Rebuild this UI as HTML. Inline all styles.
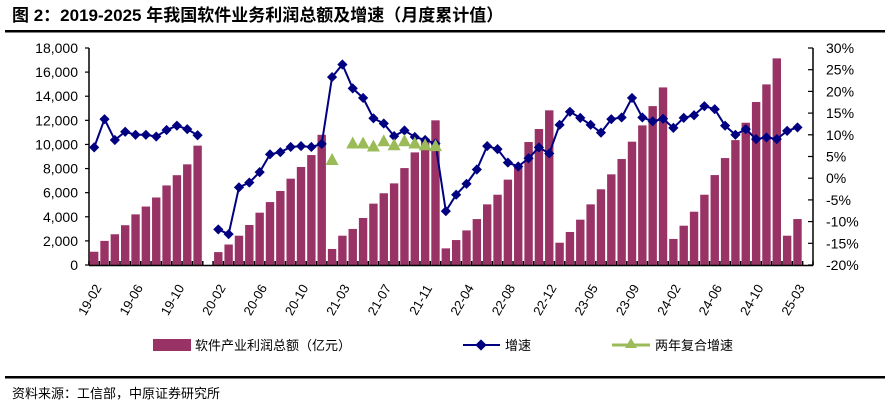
<!DOCTYPE html>
<html><head><meta charset="utf-8">
<style>
body{margin:0;background:#fff;width:889px;height:409px;overflow:hidden;font-family:"Liberation Sans","Noto Sans CJK SC",sans-serif;}
svg{display:block}
</style></head>
<body>
<svg id="c" width="889" height="409" xmlns="http://www.w3.org/2000/svg">
<text x="12" y="21" font-size="17" font-weight="bold" font-family="Liberation Sans, Noto Sans CJK SC, sans-serif" fill="#000">图 2：2019-2025 年我国软件业务利润总额及增速（月度累计值）</text>
<rect x="5" y="30" width="880" height="2.5" fill="#000"/>
<rect x="5" y="376" width="880" height="2.5" fill="#000"/>
<text x="12" y="398" font-size="13" fill="#000" font-family="Liberation Sans, Noto Sans CJK SC, sans-serif">资料来源：工信部，中原证券研究所</text>
<g id="plot"></g>
<g id="legend" font-size="13" font-family="Liberation Sans, Noto Sans CJK SC, sans-serif">
  <rect x="153" y="339" width="38" height="12" fill="#993366"/>
  <text x="195" y="350">软件产业利润总额（亿元）</text>
  <line x1="463" y1="345" x2="500" y2="345" stroke="#000080" stroke-width="2"/>
  <rect x="477" y="341" width="8" height="8" fill="#000080" transform="rotate(45 481 345)"/>
  <text x="505" y="350">增速</text>
  <line x1="612" y1="345" x2="650" y2="345" stroke="#9BBB59" stroke-width="3"/>
  <polygon points="631,338 637,348 625,348" fill="#9BBB59"/>
  <text x="655" y="350">两年复合增速</text>
</g>
</svg>
<script>
const categories = ["19-02","19-03","19-04","19-05","19-06","19-07","19-08","19-09","19-10","19-11","19-12","",
"20-02","20-03","20-04","20-05","20-06","20-07","20-08","20-09","20-10","20-11","20-12",
"21-02","21-03","21-04","21-05","21-06","21-07","21-08","21-09","21-10","21-11","21-12",
"22-02","22-03","22-04","22-05","22-06","22-07","22-08","22-09","22-10","22-11","22-12",
"23-02","23-03","23-04","23-05","23-06","23-07","23-08","23-09","23-10","23-11","23-12",
"24-02","24-03","24-04","24-05","24-06","24-07","24-08","24-09","24-10","24-11","24-12",
"25-02","25-03",""];
const profit = [1100,2000,2550,3300,4200,4850,5600,6600,7450,8350,9900,null,
1070,1700,2430,3320,4340,5220,6140,7160,8130,9120,10800,
1330,2430,2990,3900,5090,5950,6770,8040,9340,10500,12000,
1380,2070,2870,3810,5030,5830,7080,8070,10200,11280,12830,
1850,2740,3760,5030,6280,7520,8790,10230,11580,13180,14730,
2160,3260,4420,5830,7460,8870,10360,11800,13520,14980,17140,
2430,3810,null];
const growth = [7.1,13.6,8.8,10.7,10.0,10.0,9.6,11.1,12.1,11.3,9.9,null,
-11.8,-12.9,-2.1,-1.0,1.4,5.5,6.0,7.2,7.4,7.2,7.9,
23.3,26.2,20.7,18.5,13.8,12.6,9.7,11.0,9.5,8.8,8.0,
-7.6,-3.8,-1.3,2.0,7.4,6.7,3.6,2.7,4.6,7.1,5.7,
12.3,15.3,13.9,12.3,10.5,13.6,14.0,18.5,14.0,13.1,13.7,
11.6,13.9,14.5,16.6,15.9,12.1,10.0,11.3,9.0,9.4,9.0,
10.9,11.7,null];
const cagr = [null,null,null,null,null,null,null,null,null,null,null,null,
null,null,null,null,null,null,null,null,null,null,null,
4.2,null,8.0,8.0,7.3,8.5,7.6,8.5,8.0,7.6,7.4];
const leftTicks = ["0","2,000","4,000","6,000","8,000","10,000","12,000","14,000","16,000","18,000"];
const leftTickValues = [0,2000,4000,6000,8000,10000,12000,14000,16000,18000];
const rightTicks = ["-20%","-15%","-10%","-5%","0%","5%","10%","15%","20%","25%","30%"];
const rightTickValues = [-20,-15,-10,-5,0,5,10,15,20,25,30];
const xLabelIdx = [0,4,8,12,16,20,24,28,32,36,40,44,48,52,56,60,64,68];

const X0=89,X1=813,Y0=265,Y1=48;
const N=categories.length, bw=(X1-X0)/N;
const xC=i=>X0+(i+0.5)*bw;
const yL=v=>Y0-v/18000*(Y0-Y1);
const yR=p=>Y0-(p+20)/50*(Y0-Y1);
const NS="http://www.w3.org/2000/svg";
const plot=document.getElementById('plot');
function mk(tag,attrs,parent){const e=document.createElementNS(NS,tag);for(const k in attrs)e.setAttribute(k,attrs[k]);(parent||plot).appendChild(e);return e;}

// bars
profit.forEach((v,i)=>{if(v==null)return;
 const r=mk('rect',{x:xC(i)-4.2,y:yL(v),width:8.4,height:Y0-yL(v),fill:'#993366'});
 
 
});
// axes
const ax=mk('line',{x1:X0,y1:Y1,x2:X0,y2:Y0+0.5,stroke:'#000','stroke-width':1.5});


const ar=mk('line',{x1:X1,y1:Y1,x2:X1,y2:Y0+0.5,stroke:'#000','stroke-width':1.5});


const ab=mk('line',{x1:X0,y1:Y0+0.5,x2:X1,y2:Y0+0.5,stroke:'#000','stroke-width':1.5});


for(let i=0;i<=N;i++){const x=X0+i*bw;
 const t=mk('line',{x1:x,y1:Y0,x2:x,y2:Y0-4,stroke:'#000','stroke-width':1.5});
 
 
}
leftTickValues.forEach((v,i)=>{const y=yL(v);
 const t=mk('line',{x1:X0-4,y1:y,x2:X0,y2:y,stroke:'#000','stroke-width':1.2});
 
 
 const tx=mk('text',{x:78,y:y+5,'text-anchor':'end','font-size':14,fill:'#000'});
 tx.textContent=leftTicks[i];
 
 
});
rightTickValues.forEach((v,i)=>{const y=yR(v);
 const t=mk('line',{x1:X1-5,y1:y,x2:X1,y2:y,stroke:'#000','stroke-width':1.2});
 
 
 const tx=mk('text',{x:826,y:y+5,'font-size':14,fill:'#000'});
 tx.textContent=rightTicks[i];
 
 
});
xLabelIdx.forEach(i=>{const cx=xC(i)-4, cy=300;
 const tx=mk('text',{x:cx,y:cy+4,'text-anchor':'middle','font-size':13,fill:'#000',transform:`rotate(-60 ${cx} ${cy})`});
 tx.textContent=categories[i];
 
 
});
// growth line segments
function segs(arr){const out=[];let cur=[];arr.forEach((v,i)=>{if(v==null){if(cur.length)out.push(cur);cur=[];}else cur.push([xC(i),yR(v)]);});if(cur.length)out.push(cur);return out;}
segs(growth).forEach(s=>{
 const p=mk('polyline',{points:s.map(q=>q.join(',')).join(' '),fill:'none',stroke:'#000080','stroke-width':2});
 
 
});
growth.forEach((v,i)=>{if(v==null)return;const x=xC(i),y=yR(v);
 const m=mk('rect',{x:x-3.6,y:y-3.6,width:7.2,height:7.2,fill:'#000080',transform:`rotate(45 ${x} ${y})`});
 
 
});
cagr.forEach((v,i)=>{if(v==null)return;const x=xC(i),y=yR(v);
 const m=mk('polygon',{points:`${x},${y-7} ${x+6.5},${y+5} ${x-6.5},${y+5}`,fill:'#9BBB59'});
 
 
});
</script>
</body></html>
